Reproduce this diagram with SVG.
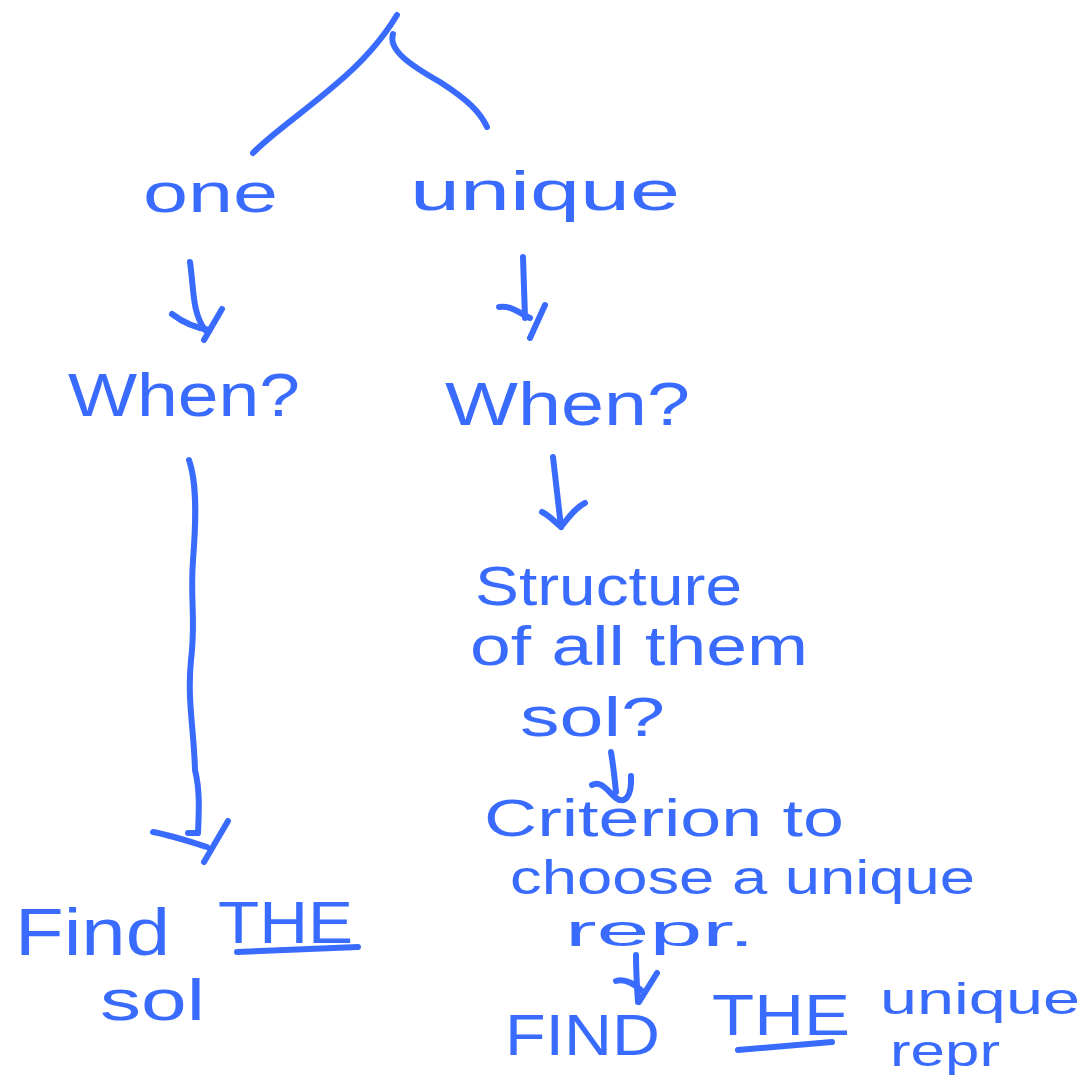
<svg xmlns="http://www.w3.org/2000/svg" width="1088" height="1084" viewBox="0 0 1088 1084">
<style>
  .t { font-family: "Liberation Sans", "Open Sans", sans-serif; fill: #3a6bff; }
  .s { fill: none; stroke: #3a6bff; stroke-width: 6; stroke-linecap: round; stroke-linejoin: round; }
</style>
<rect width="1088" height="1084" fill="#ffffff"/>
<g id="connectors">
  <path class="s" d="M397,15 C385,35 365,60 335,85 C300,115 270,135 253,153"/>
  <path class="s" d="M393,34 C388,50 410,65 440,82 C468,100 480,112 487,127"/>
  <path class="s" d="M190,262 C194,290 192,312 205,330"/>
  <path class="s" d="M172,314 C185,324 196,328 210,330 M222,309 L204,340"/>
  <path class="s" d="M523,257 L525,318"/>
  <path class="s" d="M499,307 C510,305 518,312 530,318 M545,305 L530,338"/>
  <path class="s" d="M189,460 C196,480 197,510 193,560 C190,600 196,620 191,660 C187,700 194,730 195,770 C200,790 199,810 198,833 L188,833"/>
  <path class="s" d="M153,832 C170,835 185,840 207,847 M228,821 L204,862"/>
  <path class="s" d="M553,457 L561,527"/>
  <path class="s" d="M542,512 C550,516 555,522 561,527 C568,518 575,508 585,503"/>
  <path class="s" d="M611,752 C614,770 615,782 616,792"/>
  <path class="s" d="M592,785 C602,780 608,792 616,798 C624,804 632,798 631,776"/>
  <path class="s" d="M636,955 C636,970 637,988 638,1002"/>
  <path class="s" d="M616,981 C626,978 635,985 641,990 M657,973 L639,1002"/>
</g>
<g id="node-one"><text class="t" x="143" y="212" font-size="56" textLength="135" lengthAdjust="spacingAndGlyphs">one</text></g>
<g id="node-unique"><text class="t" x="410" y="210" font-size="56" textLength="270" lengthAdjust="spacingAndGlyphs">unique</text></g>
<g id="node-when-left"><text class="t" x="68" y="416" font-size="62" textLength="232" lengthAdjust="spacingAndGlyphs">When?</text></g>
<g id="node-when-right"><text class="t" x="445" y="425" font-size="62" textLength="245" lengthAdjust="spacingAndGlyphs">When?</text></g>
<g id="node-structure">
  <text class="t" x="475" y="605" font-size="56" textLength="267" lengthAdjust="spacingAndGlyphs">Structure</text>
  <text class="t" x="470" y="665" font-size="56" textLength="338" lengthAdjust="spacingAndGlyphs">of all them</text>
  <text class="t" x="520" y="736" font-size="56" textLength="145" lengthAdjust="spacingAndGlyphs">sol?</text>
</g>
<g id="node-criterion">
  <text class="t" x="484" y="836" font-size="52" textLength="360" lengthAdjust="spacingAndGlyphs">Criterion to</text>
  <text class="t" x="510" y="894" font-size="48" textLength="465" lengthAdjust="spacingAndGlyphs">choose a unique</text>
  <text class="t" x="565" y="946" font-size="44" textLength="190" lengthAdjust="spacingAndGlyphs">repr.</text>
</g>
<g id="node-find-sol">
  <text class="t" x="15" y="955" font-size="66" textLength="155" lengthAdjust="spacingAndGlyphs">Find</text>
  <text class="t" x="218" y="943" font-size="60" textLength="135" lengthAdjust="spacingAndGlyphs">THE</text>
  <path class="s" d="M237,952 L358,947"/>
  <text class="t" x="100" y="1020" font-size="58" textLength="105" lengthAdjust="spacingAndGlyphs">sol</text>
</g>
<g id="node-find-repr">
  <text class="t" x="505" y="1055" font-size="58" textLength="155" lengthAdjust="spacingAndGlyphs">FIND</text>
  <text class="t" x="712" y="1035" font-size="58" textLength="138" lengthAdjust="spacingAndGlyphs">THE</text>
  <path class="s" d="M738,1050 L832,1042"/>
  <text class="t" x="880" y="1014" font-size="44" textLength="200" lengthAdjust="spacingAndGlyphs">unique</text>
  <text class="t" x="890" y="1066" font-size="44" textLength="110" lengthAdjust="spacingAndGlyphs">repr</text>
</g>
</svg>
